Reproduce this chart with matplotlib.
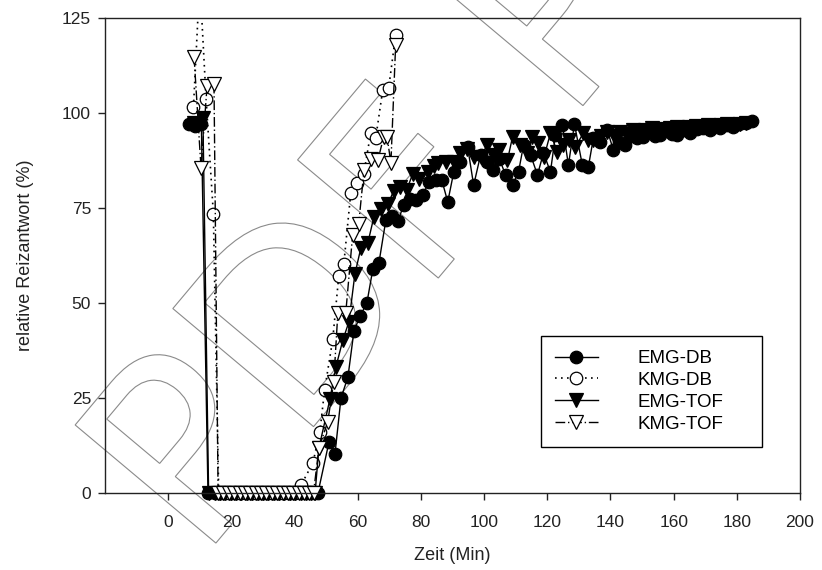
import matplotlib
matplotlib.use("Agg")
import matplotlib.pyplot as plt
from matplotlib.textpath import TextPath
from matplotlib.patches import PathPatch, Rectangle
from matplotlib.font_manager import FontProperties
from matplotlib.transforms import Affine2D

# ---------------- data ----------------
emg_db_t = [6.5, 8.5, 10.5,
            12.6, 14.7, 16.4, 18.1, 19.8, 21.5, 23.2, 24.9, 26.6, 28.3, 30.0,
            31.7, 33.4, 35.1, 36.8, 38.5, 40.2, 41.9, 43.6, 45.3, 47.4,
            50.9, 52.8, 54.7, 56.9, 58.8, 60.7, 62.9, 64.8, 66.7, 68.9,
            70.8, 72.7, 74.6, 76.5, 78.4, 80.6, 82.5, 84.7, 86.6, 88.5,
            90.4, 92.5, 94.8, 96.7, 98.9, 100.8, 102.7, 104.8, 106.8, 109.0,
            110.9, 112.5, 114.7, 116.9, 118.8, 121.0, 122.6, 124.8, 126.7, 128.6,
            131.1, 133.0, 134.6, 136.8, 139.0, 140.9, 142.8, 144.7, 146.6, 148.5,
            150.4, 152.3, 154.0, 155.8, 157.7, 159.4, 161.1, 163.2, 165.2, 167.3,
            169.4, 171.5, 173.0, 174.7, 176.8, 178.8, 180.8, 182.8, 184.8]
emg_db_v = [97, 96.5, 97,
            0, 0, 0, 0, 0, 0, 0, 0, 0, 0, 0,
            0, 0, 0, 0, 0, 0, 0, 0, 0, 0,
            13.4, 10.3, 25, 30.5, 42.6, 46.5, 50, 59, 60.5, 71.8,
            73, 71.6, 75.8, 77.5, 77, 78.4, 81.8, 82.4, 82.4, 76.6,
            84.5, 87, 91, 81, 89, 87, 85, 88, 83.7, 81,
            84.5, 91.6, 89, 83.7, 89.5, 84.5, 94.2, 96.8, 86.3, 97.1,
            86.3, 85.8, 93.4, 92.4, 95.5, 90.3, 92.5, 91.6, 94, 93.5,
            93.7, 95, 94, 94.2, 95.5, 94.5, 94.2, 95.5, 94.7, 95.8,
            96, 95.5, 96.5, 96, 96.8, 96.3, 97, 97.3, 97.9]

kmg_db_t = [8.0, 10.0, 12.0, 14.3,
            16.0, 17.7, 19.4, 21.1, 22.8, 24.5, 26.2, 27.9, 29.6, 31.3,
            33.0, 34.7, 36.4, 38.1, 39.8,
            42.0, 45.8, 48.0, 49.5, 52.1, 54.0, 55.6, 57.8, 59.7, 61.9,
            64.1, 65.7, 67.9, 69.8, 72.0]
kmg_db_v = [101.5, 135, 103.7, 73.5,
            0, 0, 0, 0, 0, 0, 0, 0, 0, 0,
            0, 0, 0, 0, 0,
            2, 7.9, 16, 27, 40.5, 57.1, 60.3, 79, 81.5, 84,
            94.7, 93.4, 106, 106.6, 120.5]

emg_tof_t = [8.2, 11.0,
             12.8, 14.7, 16.4, 18.1, 19.8, 21.5, 23.2, 24.9, 26.6, 28.3, 30.0,
             31.7, 33.4, 35.1, 36.8, 38.5, 40.2, 41.9, 43.6, 45.3, 46.5,
             47.7, 51.2, 53.1, 55.3, 57.2, 59.1, 61.0, 63.2, 65.1, 67.3,
             69.5, 71.4, 73.5, 75.5, 77.4, 79.3, 82.1, 84.0, 85.3, 87.8,
             90.4, 92.5, 94.5, 96.7, 98.9, 101.0, 102.8, 104.6, 107.4, 109.0,
             111.5, 113.5, 115.3, 117.2, 119.0, 121.0, 123.2, 125.1, 127.0, 128.9,
             131.4, 133.0, 134.6, 137.0, 139.0, 141.0, 143.0, 145.0, 147.0, 149.0,
             151.0, 153.0, 155.0, 157.0, 159.0, 161.0, 163.0, 165.0, 167.0, 169.0,
             171.0, 173.0, 175.0, 177.0, 179.0, 181.0, 183.0]
emg_tof_v = [97.5, 98.7,
             0, 0, 0, 0, 0, 0, 0, 0, 0, 0, 0,
             0, 0, 0, 0, 0, 0, 0, 0, 0, 0,
             11.8, 24.7, 33.2, 40.3, 45, 57.6, 64.5, 65.8, 72.6, 74.7,
             76, 79.5, 80.5, 79.7, 84, 82.6, 84.5, 86, 86.8, 87,
             87, 89.5, 90.5, 88.5, 88.4, 91.6, 89, 90.3, 87.6, 93.7,
             91.6, 89.5, 93.7, 92.1, 88.5, 94.7, 89.7, 91.6, 93, 91,
             94.7, 93, 92.9, 94, 95, 94, 95, 94.5, 95.5, 95,
             95.5, 96, 95.5, 95.8, 96, 96.2, 95.8, 96.3, 96.5, 96.2,
             96.8, 96.5, 96.8, 97, 96.8, 97.2, 97.5]

kmg_tof_t = [8.2, 10.4, 12.3, 14.5,
             15.8, 17.5, 19.2, 20.9, 22.6, 24.3, 26.0, 27.7, 29.4, 31.1,
             32.8, 34.5, 36.2, 37.9, 39.6, 41.3, 43.0, 44.7, 46.0,
             47.7, 50.5, 52.4, 53.7, 56.2, 58.4, 60.3, 62.0, 64.1, 66.4,
             68.2, 69.3, 70.5, 72.0]
kmg_tof_v = [114.7, 85.5, 107, 107.6,
             0, 0, 0, 0, 0, 0, 0, 0, 0, 0,
             0, 0, 0, 0, 0, 0, 0, 0, 0,
             11.8, 18.7, 29.2, 47.3, 47.3, 68, 70.8, 85, 88, 87.6,
             93.7, 93.7, 86.8, 117.9]

labels = ["EMG-DB", "KMG-DB", "EMG-TOF", "KMG-TOF"]
x_ticks = [0, 20, 40, 60, 80, 100, 120, 140, 160, 180, 200]
y_ticks = [0, 25, 50, 75, 100, 125]

# ---------------- figure ----------------
narrow = ["Liberation Sans Narrow", "Liberation Sans", "DejaVu Sans"]
regular = ["Liberation Sans", "DejaVu Sans"]

fig = plt.figure(figsize=(8.22, 5.70), dpi=100)
ax = fig.add_axes([105 / 822, 77 / 570, 695 / 822, 475 / 570])

# watermark (outlined text)
tp = TextPath((0, 0), "PDF PRO", size=1, prop=FontProperties(family="DejaVu Sans"))
wm = PathPatch(tp, facecolor="none", edgecolor="#8a8a8a", lw=0.8,
               transform=Affine2D().scale(252).rotate_deg(50).translate(200, 8),
               zorder=0.5, clip_on=False)
ax.add_patch(wm)

clip = Rectangle((0, -0.06), 1, 1.06, transform=ax.transAxes)

styles = [
    dict(color="black", ls="-", lw=1.0, marker="o", ms=9, mfc="black", mec="black", mew=0.9),
    dict(color="black", ls=(0, (1, 2.6)), lw=1.2, marker="o", ms=9, mfc="white", mec="black", mew=0.9),
    dict(color="black", ls="-", lw=1.0, marker="v", ms=9.5, mfc="black", mec="black", mew=0.9),
    dict(color="black", ls=(0, (7, 2, 1, 2)), lw=1.0, marker="v", ms=9.5, mfc="white", mec="black", mew=0.9),
]
series = [(emg_db_t, emg_db_v), (kmg_db_t, kmg_db_v), (emg_tof_t, emg_tof_v), (kmg_tof_t, kmg_tof_v)]

handles = []
for (t, v), st, lab in zip(series, styles, labels):
    ln, = ax.plot(t, v, label=lab, zorder=2, **st)
    ln.set_clip_path(clip)
    handles.append(ln)

ax.set_xlim(-20, 200)
ax.set_ylim(0, 125)
ax.set_xticks(x_ticks)
ax.set_yticks(y_ticks)
ax.set_xticklabels([str(x) for x in x_ticks], family=narrow, fontsize=12.5)
ax.set_yticklabels([str(y) for y in y_ticks], family=narrow, fontsize=12.5)
ax.tick_params(direction="out", length=5, width=1, top=False, right=False,
               colors="#222222", pad=5)
ax.tick_params(axis="x", pad=11)
for s in ax.spines.values():
    s.set_linewidth(1.0)
    s.set_color("#222222")

ax.set_xlabel("Zeit (Min)", family=narrow, fontsize=13, labelpad=12, color="#222222")
ax.set_ylabel("relative Reizantwort (%)", family=narrow, fontsize=13, labelpad=20, color="#222222")

leg = ax.legend(handles=handles, loc="upper left",
                bbox_to_anchor=(0.627, 0.0947, 0.319, 0.2358), mode="expand",
                prop=FontProperties(family=regular, size=13.5), frameon=True,
                fancybox=False, edgecolor="black", framealpha=1, borderpad=0.75,
                handlelength=2.3, handletextpad=2.1, labelspacing=0.25, numpoints=1,
                borderaxespad=0)
leg.get_frame().set_linewidth(1.0)
leg.set_zorder(5)

fig.savefig("out.png", dpi=100)
